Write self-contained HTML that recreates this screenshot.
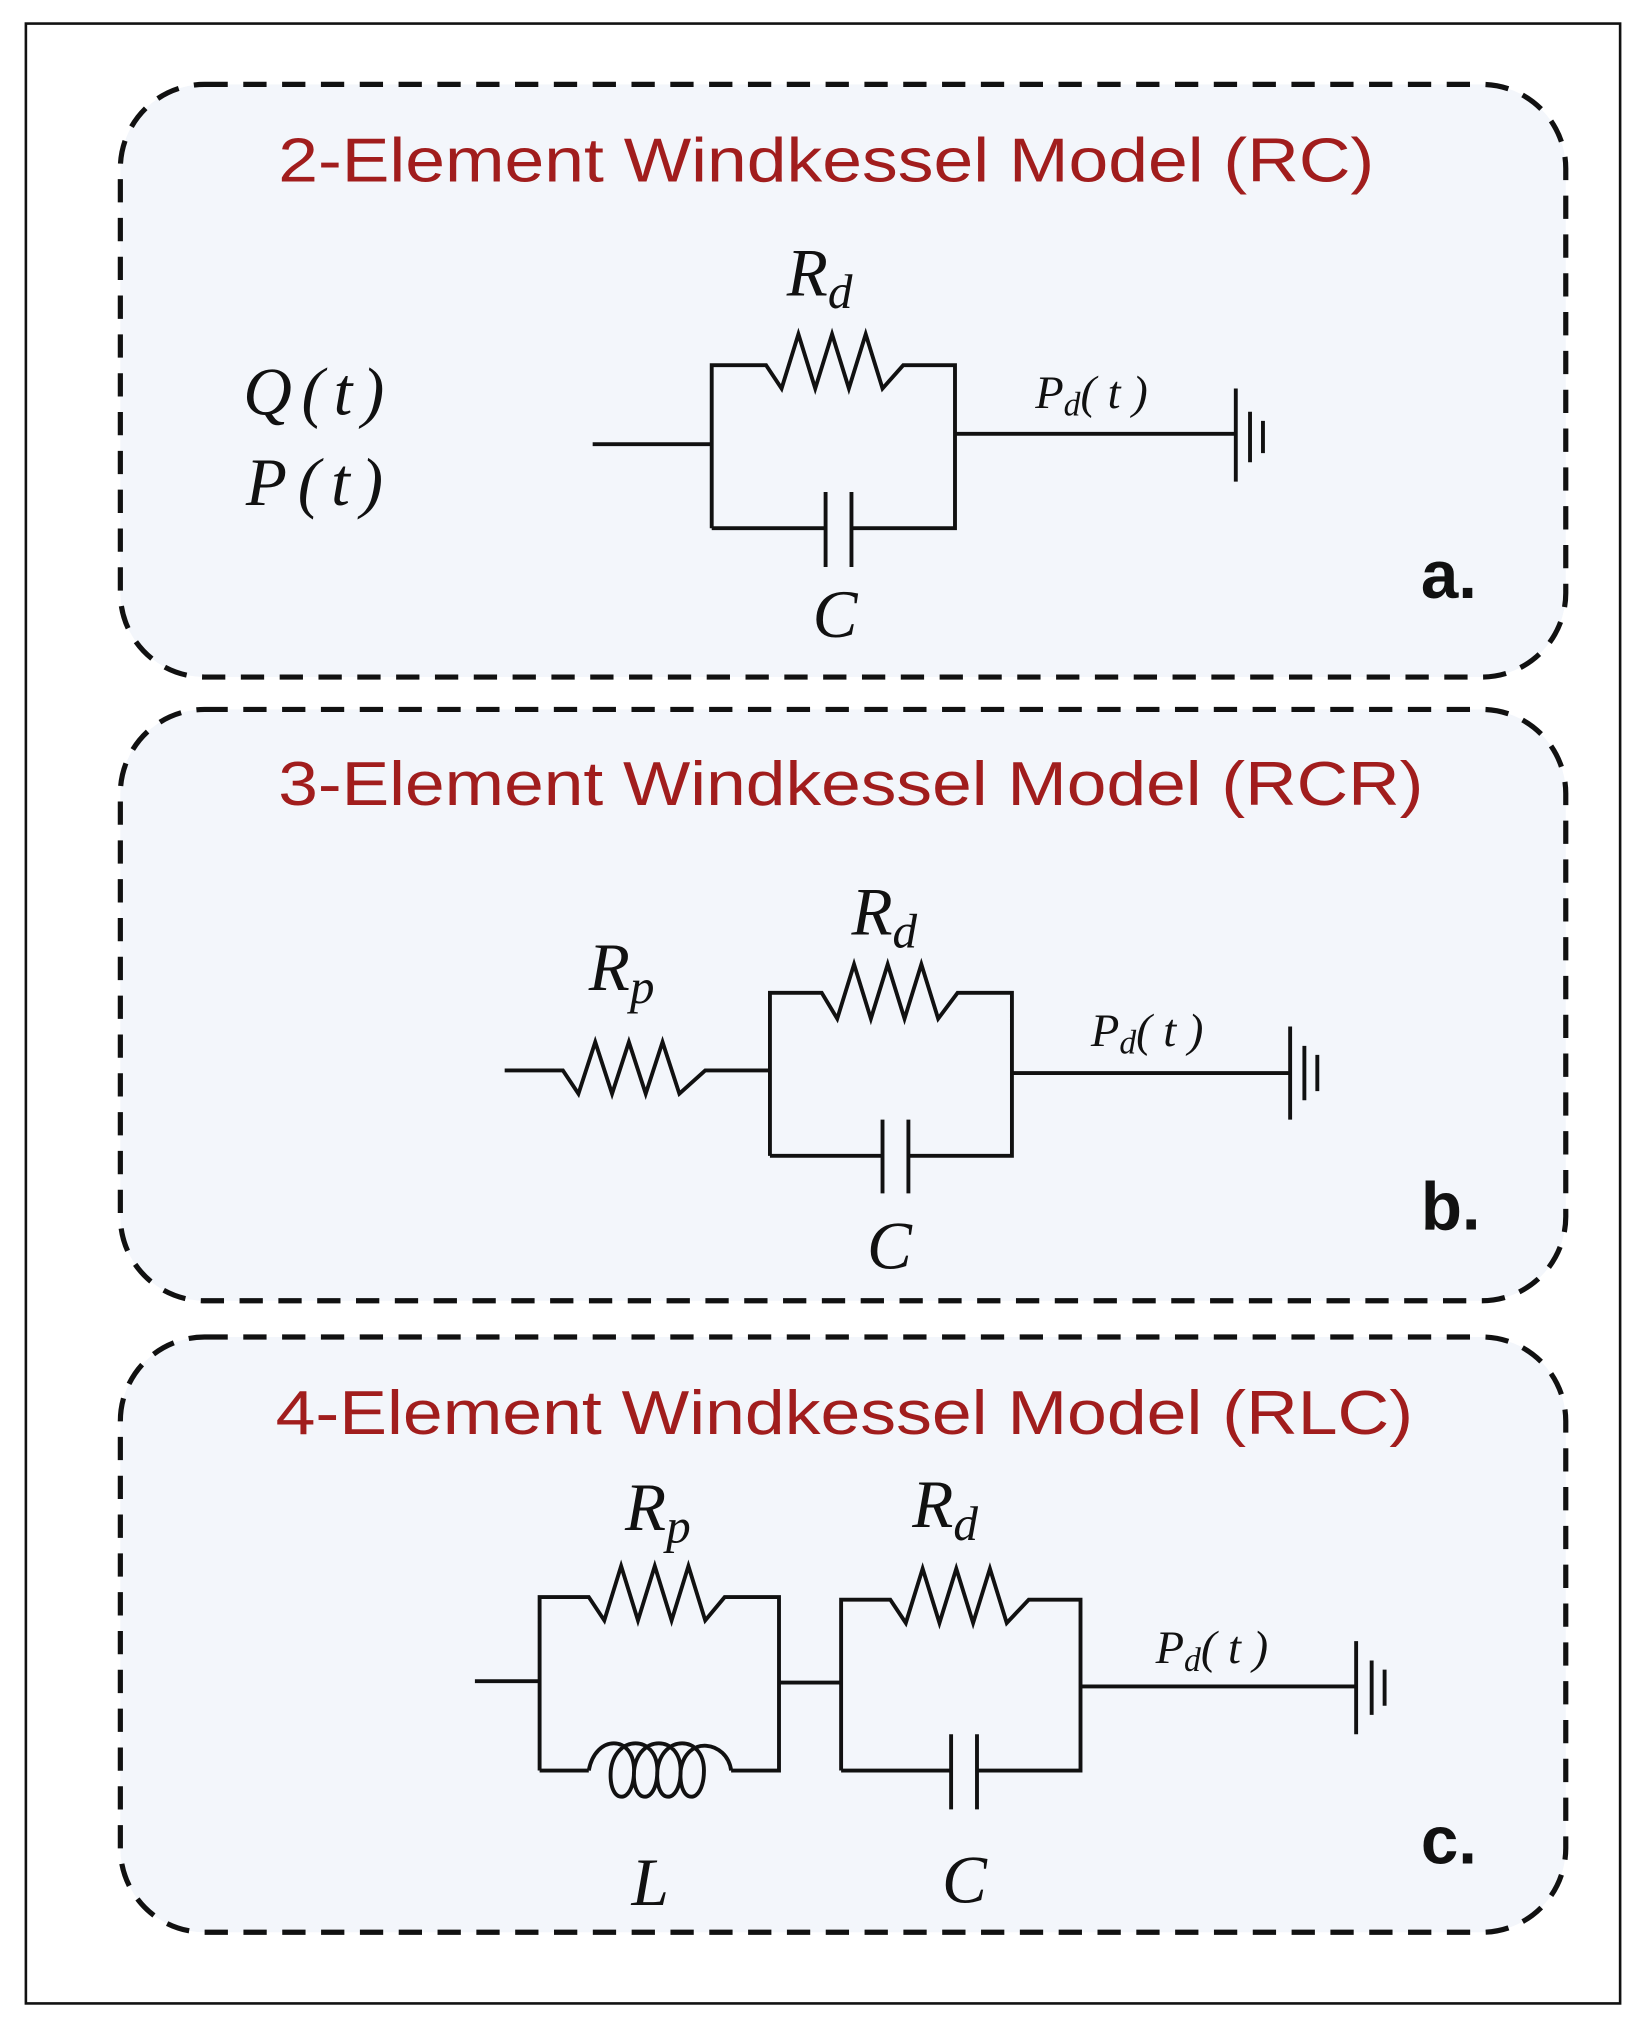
<!DOCTYPE html>
<html><head><meta charset="utf-8"><style>
html,body{margin:0;padding:0;background:#fff;}
svg{display:block;}
.t{font-family:"Liberation Sans",sans-serif;fill:#a11d1d;font-size:48px;}
.m{font-family:"Liberation Serif",serif;font-style:italic;fill:#111;}
.lb{font-family:"Liberation Sans",sans-serif;font-weight:bold;fill:#111;font-size:52px;}
.w{stroke:#111;stroke-width:3;fill:none;}
.p{fill:#f3f6fb;stroke:#111;stroke-width:4;stroke-dasharray:18 12;}
</style></head><body>
<svg width="1646" height="2027" viewBox="0 0 1272 1566" xmlns="http://www.w3.org/2000/svg">
<rect x="20" y="18" width="1232" height="1530" fill="#fff" stroke="#111" stroke-width="2"/>
<rect class="p" x="93" y="65" width="1117" height="458" rx="65"/>
<rect class="p" x="93" y="548" width="1117" height="457" rx="65"/>
<rect class="p" x="93" y="1033" width="1117" height="460" rx="65"/>

<text class="t" x="215" y="140" textLength="847" lengthAdjust="spacingAndGlyphs">2-Element Windkessel Model (RC)</text>
<text class="t" x="215" y="622" textLength="885" lengthAdjust="spacingAndGlyphs">3-Element Windkessel Model (RCR)</text>
<text class="t" x="213" y="1108" textLength="879" lengthAdjust="spacingAndGlyphs">4-Element Windkessel Model (RLC)</text>

<!-- a -->
<text class="m" x="188" y="320" font-size="52" textLength="109" lengthAdjust="spacing">Q(t)</text>
<text class="m" x="190" y="390" font-size="52" textLength="106" lengthAdjust="spacing">P(t)</text>
<path class="w" d="M458 343H550 M550 408V282H592 L604 300 L617 258 L630 300 L643 258 L656 300 L669 258 L682 300 L698 282H738V408H658 M638 408H550 M738 335H955"/>
<path class="w" d="M638 380V438 M658 380V438 M955 300V372 M966 318V357 M976 325V350"/>
<text class="m" x="608" y="228" font-size="52">R<tspan font-size="38" dy="10">d</tspan></text>
<text class="m" x="628" y="492" font-size="52">C</text>
<text class="m" x="800" y="315" font-size="36">P<tspan font-size="26" dy="6">d</tspan><tspan dy="-6" textLength="52" lengthAdjust="spacing">(t)</tspan></text>
<text class="lb" x="1098" y="462">a.</text>

<!-- b -->
<path class="w" d="M390 827H435 L447 845 L460 805 L473 845 L486 805 L499 845 L512 805 L525 845 L545 827H595 M595 893V767H635 L647 787 L660 745 L673 787 L686 745 L699 787 L712 745 L725 787 L740 767H782V893H702 M682 893H595 M782 829H997"/>
<path class="w" d="M682 865V922 M702 865V922 M997 793V865 M1008 808V850 M1018 815V843"/>
<text class="m" x="455" y="765" font-size="52">R<tspan font-size="38" dy="10">p</tspan></text>
<text class="m" x="658" y="722" font-size="52">R<tspan font-size="38" dy="10">d</tspan></text>
<text class="m" x="670" y="980" font-size="52">C</text>
<text class="m" x="843" y="808" font-size="36">P<tspan font-size="26" dy="6">d</tspan><tspan dy="-6" textLength="52" lengthAdjust="spacing">(t)</tspan></text>
<text class="lb" x="1098" y="950">b.</text>

<!-- c -->
<path class="w" d="M367 1299H417 M417 1368V1234H455 L467 1252 L480 1210 L493 1252 L506 1210 L519 1252 L532 1210 L545 1252 L560 1234H602V1368H565 M455 1368H417 M602 1300H650 M650 1368V1236H688 L700 1254 L713 1212 L726 1254 L739 1212 L752 1254 L765 1212 L778 1254 L795 1236H835V1368H755 M735 1368H650 M835 1303H1048"/>
<path class="w" d="M455 1368 C460 1340 490 1340 490 1368 C490 1395 470 1395 472 1368 C475 1340 508 1340 508 1368 C508 1395 488 1395 490 1368 C493 1340 526 1340 526 1368 C526 1395 506 1395 508 1368 C511 1340 544 1340 544 1368 C544 1395 524 1395 526 1368 C530 1340 562 1345 565 1368"/>
<path class="w" d="M735 1340V1398 M755 1340V1398 M1048 1268V1340 M1060 1283V1325 M1070 1290V1318"/>
<text class="m" x="483" y="1182" font-size="52">R<tspan font-size="38" dy="10">p</tspan></text>
<text class="m" x="705" y="1180" font-size="52">R<tspan font-size="38" dy="10">d</tspan></text>
<text class="m" x="488" y="1472" font-size="52">L</text>
<text class="m" x="728" y="1470" font-size="52">C</text>
<text class="m" x="893" y="1285" font-size="36">P<tspan font-size="26" dy="6">d</tspan><tspan dy="-6" textLength="52" lengthAdjust="spacing">(t)</tspan></text>
<text class="lb" x="1098" y="1440">c.</text>
</svg>
</body></html>
